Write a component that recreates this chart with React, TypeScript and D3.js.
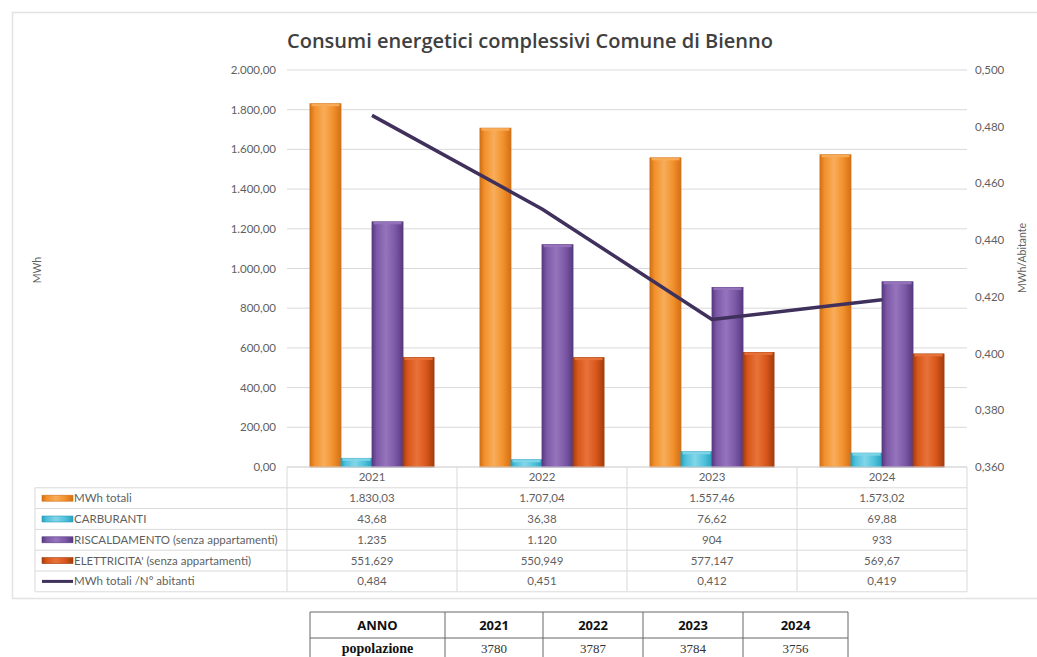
import React from "react";
import * as d3 from "d3";

const years = ["2021", "2022", "2023", "2024"];
const totali = [1830.03, 1707.04, 1557.46, 1573.02];
const carburanti = [43.68, 36.38, 76.62, 69.88];
const riscaldamento = [1235, 1120, 904, 933];
const elettricita = [551.629, 550.949, 577.147, 569.67];
const perAbitante = [0.484, 0.451, 0.412, 0.419];

const totaliLabels = ["1.830,03", "1.707,04", "1.557,46", "1.573,02"];
const carburantiLabels = ["43,68", "36,38", "76,62", "69,88"];
const riscLabels = ["1.235", "1.120", "904", "933"];
const elettLabels = ["551,629", "550,949", "577,147", "569,67"];
const abitLabels = ["0,484", "0,451", "0,412", "0,419"];

const leftTicks = [0, 200, 400, 600, 800, 1000, 1200, 1400, 1600, 1800, 2000];
const rightTicks = [0.36, 0.38, 0.4, 0.42, 0.44, 0.46, 0.48, 0.5];

const popolazione = ["3780", "3787", "3784", "3756"];

const series = [
  { key: "tot", name: "MWh totali", values: totali, labels: totaliLabels, c: ["#d27016", "#f2902c", "#f8ad5a", "#e0821f"] },
  { key: "carb", name: "CARBURANTI", values: carburanti, labels: carburantiLabels, c: ["#2a9fbd", "#4fc2dc", "#82d6e8", "#3aaccb"] },
  { key: "risc", name: "RISCALDAMENTO (senza appartamenti)", values: riscaldamento, labels: riscLabels, c: ["#573a80", "#7c58a6", "#9674bd", "#6a4796"] },
  { key: "elet", name: "ELETTRICITA' (senza appartamenti)", values: elettricita, labels: elettLabels, c: ["#a33d0e", "#d8561a", "#e8733a", "#c24f16"] },
];

const FONT = "Lato, 'Open Sans', sans-serif";

export default function App() {
  const W = 1037, H = 657;
  const x0 = 287, x1 = 967, yTop = 70, yBot = 467;
  const x = d3.scaleBand().domain(years).range([x0, x1]).padding(0);
  const bw = x.bandwidth();
  const inner = d3.scaleBand().domain(series.map((s) => s.key)).range([bw * 0.135, bw * 0.865]).padding(0);
  const yL = d3.scaleLinear().domain([0, 2000]).range([yBot, yTop]);
  const yR = d3.scaleLinear().domain([0.36, 0.5]).range([yBot, yTop]);
  const fmtL = (v: number) => d3.format(",.2f")(v).replace(/,/g, "#").replace(".", ",").replace(/#/g, ".");
  const fmtR = (v: number) => d3.format(".3f")(v).replace(".", ",");
  const line = d3.line<number>().x((_, i) => (x(years[i]) as number) + bw / 2).y((d) => yR(d));

  const tableTop = 467;
  const rowH = 20.8;
  const tableLeft = 35;
  const textCol = "#5f5f5f";
  const grid = "#d9d9d9";
  const fs = 11.5;

  return (
    <svg width={W} height={H} style={{ position: "absolute", left: 0, top: 0, background: "#fff" }} fontFamily={FONT}>
      <defs>
        {series.map((s) => (
          <linearGradient key={s.key} id={"g" + s.key} x1="0" x2="1" y1="0" y2="0">
            <stop offset="0" stopColor={s.c[0]} />
            <stop offset="0.15" stopColor={s.c[1]} />
            <stop offset="0.45" stopColor={s.c[2]} />
            <stop offset="0.75" stopColor={s.c[1]} />
            <stop offset="1" stopColor={s.c[0]} />
          </linearGradient>
        ))}
      </defs>
      <rect x={12.5} y={12.5} width={1040} height={586} fill="#fff" stroke="#e3e3e3" strokeWidth={1.5} />
      <text x={530} y={48} textAnchor="middle" fontSize={20} fontWeight={600} fill="#404040" fontFamily="'Open Sans', sans-serif" textLength={486} lengthAdjust="spacingAndGlyphs">
        Consumi energetici complessivi Comune di Bienno
      </text>
      {leftTicks.map((t) => (
        <g key={t}>
          <line x1={x0} x2={x1} y1={yL(t)} y2={yL(t)} stroke={grid} strokeWidth={1} />
          <text x={276} y={yL(t) + 4} textAnchor="end" fontSize={fs} fill={textCol}>{fmtL(t)}</text>
        </g>
      ))}
      {rightTicks.map((t) => (
        <text key={t} x={975} y={yR(t) + 4} fontSize={fs} fill={textCol}>{fmtR(t)}</text>
      ))}
      <text transform="translate(41,270) rotate(-90)" textAnchor="middle" fontSize={10.5} fill={textCol}>MWh</text>
      <text transform="translate(1026,258) rotate(-90)" textAnchor="middle" fontSize={10.5} fill={textCol}>MWh/Abitante</text>
      {years.map((yr, i) => (
        <g key={yr}>
          {series.map((s) => {
            const bx = (x(yr) as number) + (inner(s.key) as number);
            const by = yL(s.values[i]);
            const w = inner.bandwidth();
            return (
              <g key={s.key}>
                <rect x={bx} y={by} width={w} height={yBot - by} fill={`url(#g${s.key})`} stroke={s.c[0]} strokeWidth={0.8} />
                <rect x={bx + 1.5} y={by} width={w - 3} height={2.5} fill={s.c[2]} opacity={0.9} />
              </g>
            );
          })}
        </g>
      ))}
      <path d={line(perAbitante) || ""} fill="none" stroke="#3f305c" strokeWidth={3.5} strokeLinejoin="round" />
      <g>
        <line x1={x0} x2={x1} y1={tableTop} y2={tableTop} stroke={grid} />
        {d3.range(1, 7).map((r) => (
          <line key={r} x1={tableLeft} x2={x1} y1={tableTop + r * rowH} y2={tableTop + r * rowH} stroke={grid} />
        ))}
        <line x1={tableLeft} x2={tableLeft} y1={tableTop + rowH} y2={tableTop + 6 * rowH} stroke={grid} />
        {[...years.map((y) => x(y) as number), x1].map((vx, i) => (
          <line key={i} x1={vx} x2={vx} y1={tableTop} y2={tableTop + 6 * rowH} stroke={grid} />
        ))}
        {years.map((yr) => (
          <text key={yr} x={(x(yr) as number) + bw / 2} y={tableTop + rowH / 2 + 4} textAnchor="middle" fontSize={fs} fill={textCol}>{yr}</text>
        ))}
        {series.map((s, r) => {
          const cy = tableTop + (r + 1) * rowH + rowH / 2;
          return (
            <g key={s.key}>
              <rect x={42} y={cy - 3} width={31} height={6} fill={`url(#g${s.key})`} stroke={s.c[0]} strokeWidth={0.6} />
              <text x={74} y={cy + 4} fontSize={fs} fill={textCol}>{s.name}</text>
              {s.labels.map((lb, i) => (
                <text key={i} x={(x(years[i]) as number) + bw / 2} y={cy + 4} textAnchor="middle" fontSize={fs} fill={textCol}>{lb}</text>
              ))}
            </g>
          );
        })}
        {(() => {
          const cy = tableTop + 5 * rowH + rowH / 2;
          return (
            <g>
              <line x1={42} x2={73} y1={cy} y2={cy} stroke="#3f305c" strokeWidth={3} />
              <text x={74} y={cy + 4} fontSize={fs} fill={textCol}>MWh totali /N° abitanti</text>
              {abitLabels.map((lb, i) => (
                <text key={i} x={(x(years[i]) as number) + bw / 2} y={cy + 4} textAnchor="middle" fontSize={fs} fill={textCol}>{lb}</text>
              ))}
            </g>
          );
        })()}
      </g>
      <g>
        {(() => {
          const cols = [310, 445, 543, 643, 743, 848];
          const rows = [612, 638, 664];
          const heads = ["ANNO", ...years];
          return (
            <g>
              {rows.map((ry, i) => (
                <line key={i} x1={cols[0]} x2={cols[5]} y1={ry} y2={ry} stroke="#666" strokeWidth={1} />
              ))}
              {cols.map((cx, i) => (
                <line key={i} x1={cx} x2={cx} y1={rows[0]} y2={rows[2]} stroke="#666" strokeWidth={1} />
              ))}
              {heads.map((h, i) => (
                <text key={h} x={(cols[i] + cols[i + 1]) / 2} y={630} textAnchor="middle" fontSize={13} fontWeight="bold" fill="#111" fontFamily="'Open Sans', sans-serif">{h}</text>
              ))}
              <text x={(cols[0] + cols[1]) / 2} y={653} textAnchor="middle" fontSize={14} fontWeight="bold" fill="#111" fontFamily="'Liberation Serif', serif">popolazione</text>
              {popolazione.map((p, i) => (
                <text key={i} x={(cols[i + 1] + cols[i + 2]) / 2} y={653} textAnchor="middle" fontSize={13} fill="#333" fontFamily="'Liberation Serif', serif">{p}</text>
              ))}
            </g>
          );
        })()}
      </g>
    </svg>
  );
}
